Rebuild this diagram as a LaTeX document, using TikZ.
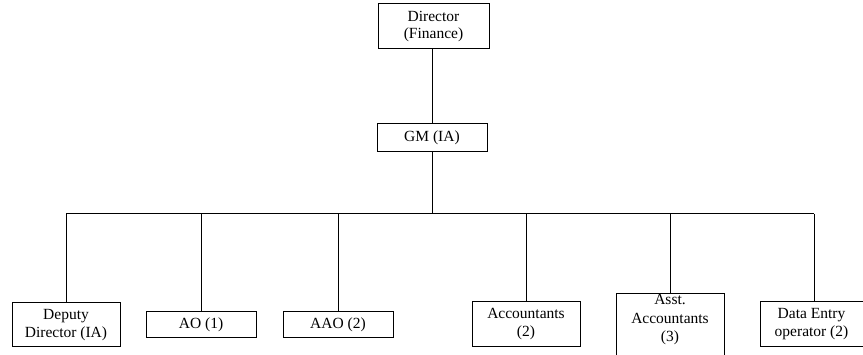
\documentclass[tikz,border=0pt]{standalone}
\usepackage{fontspec}
\setmainfont{Liberation Serif}
\begin{document}
\begin{tikzpicture}[x=1pt,y=-1pt,
  box/.style={draw, line width=1pt, inner sep=0pt, align=center,
    font=\fontsize{15.5}{18}\selectfont},
  txt/.style={inner sep=0pt, align=center, font=\fontsize{15.5}{18.5}\selectfont},
  conn/.style={line width=1pt}]
\useasboundingbox (0,0) rectangle (863,355);
\node[box, minimum width=111, minimum height=45, font=\fontsize{15.5}{17}\selectfont] (dir) at (433.5,26.5) {Director\\(Finance)};
\node[box, minimum width=110, minimum height=28] (gm) at (432,138) {GM (IA)};
\coordinate (busL) at (66,214);
\coordinate (busM) at (432,214);
\coordinate (busR) at (814,214);
\node[box, minimum width=108, minimum height=44] (dep) at (66,325) {Deputy\\Director (IA)};
\node[box, minimum width=110, minimum height=26] (ao) at (201,325) {AO (1)};
\node[box, minimum width=110, minimum height=26] (aao) at (338,325) {AAO (2)};
\node[box, minimum width=108, minimum height=45] (acc) at (526,324.5) {Accountants\\(2)};
\node[box, minimum width=108, minimum height=80, anchor=north] (asst) at (670,293) {};
\node[txt] (assttxt) at (670,320) {Asst.\\Accountants\\(3)};
\node[box, minimum width=103, minimum height=45] (deo) at (811.5,324.5) {Data Entry\\operator (2)};
\draw[conn] (gm.north |- dir.south) -- (gm.north);
\draw[conn] (gm.south) -- (busM);
\draw[conn] (busL) -- (busR);
\draw[conn] (busL) -- (dep.north);
\draw[conn] (ao.north |- busL) -- (ao.north);
\draw[conn] (aao.north |- busL) -- (aao.north);
\draw[conn] (acc.north |- busL) -- (acc.north);
\draw[conn] (asst.north |- busL) -- (asst.north);
\draw[conn] (busR) -- (busR |- deo.north);
\end{tikzpicture}
\end{document}
